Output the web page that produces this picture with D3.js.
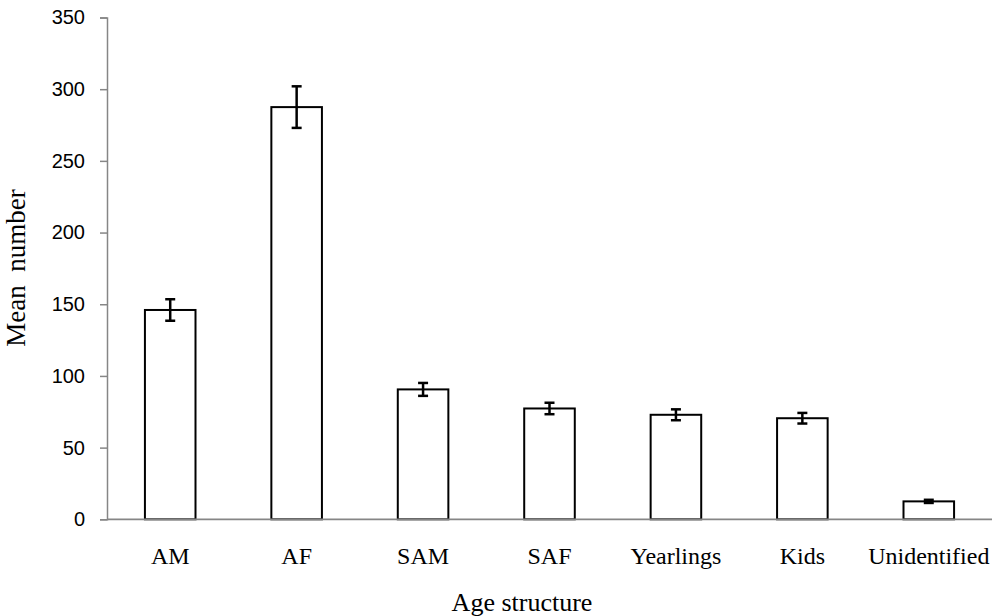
<!DOCTYPE html>
<html><head><meta charset="utf-8">
<script src="https://cdn.jsdelivr.net/npm/d3@7"></script>
<style>body{margin:0;background:#fff}svg{display:block}</style>
</head><body>
<svg id="chart" width="999" height="616"></svg>
<script>
const categories = ["AM","AF","SAM","SAF","Yearlings","Kids","Unidentified"];
const means = [146, 287.5, 90.6, 77.3, 72.9, 70.5, 12.5];
const errors = [7.5, 14.5, 4.5, 4.0, 3.8, 3.7, 1.1];
const yTicks = [0, 50, 100, 150, 200, 250, 300, 350];

const svg = d3.select("#chart");
const mLeft = 107, mRight = 992, mTop = 17.5, mBottom = 519.3;

const x = d3.scaleBand().domain(categories).range([mLeft, mRight]).paddingInner(0.6).paddingOuter(0.3);
const y = d3.scaleLinear().domain([0, 350]).range([mBottom, mTop]);

// y axis
const yAxis = svg.append("g").attr("transform", `translate(${mLeft},0)`)
  .call(d3.axisLeft(y).tickValues(yTicks).tickSize(7).tickPadding(15).tickFormat(d3.format("d")));
yAxis.select(".domain").attr("stroke", "#868686").attr("stroke-width", 1.5);
yAxis.selectAll(".tick line").attr("stroke", "#868686").attr("stroke-width", 1.5);
yAxis.selectAll(".tick text").attr("font-family", "'Liberation Sans', Arial, sans-serif")
  .attr("font-size", 20).attr("fill", "#000");

// bars
const data = categories.map((c, i) => ({c, m: means[i], e: errors[i]}));
svg.append("g").selectAll("rect").data(data).join("rect")
  .attr("x", d => x(d.c)).attr("width", x.bandwidth())
  .attr("y", d => y(d.m)).attr("height", d => y(0) - y(d.m))
  .attr("fill", "#fff").attr("stroke", "#000").attr("stroke-width", 2);

// x axis line
svg.append("line").attr("x1", mLeft).attr("x2", mRight).attr("y1", y(0)).attr("y2", y(0))
  .attr("stroke", "#868686").attr("stroke-width", 1.8);

// error bars
const eg = svg.append("g").attr("stroke", "#000").attr("stroke-width", 2.5);
data.forEach(d => {
  const cx = x(d.c) + x.bandwidth() / 2;
  eg.append("line").attr("x1", cx).attr("x2", cx).attr("y1", y(d.m + d.e)).attr("y2", y(d.m - d.e));
  eg.append("line").attr("x1", cx - 5).attr("x2", cx + 5).attr("y1", y(d.m + d.e)).attr("y2", y(d.m + d.e));
  eg.append("line").attr("x1", cx - 5).attr("x2", cx + 5).attr("y1", y(d.m - d.e)).attr("y2", y(d.m - d.e));
});

// category labels
svg.append("g").selectAll("text").data(categories).join("text")
  .attr("x", d => x(d) + x.bandwidth() / 2).attr("y", 564)
  .attr("text-anchor", "middle")
  .attr("font-family", "'Liberation Serif', 'Times New Roman', serif")
  .attr("font-size", 24).attr("fill", "#000").text(d => d);

// axis titles
svg.append("text").attr("x", 522).attr("y", 611).attr("text-anchor", "middle")
  .attr("font-family", "'Liberation Serif', 'Times New Roman', serif")
  .attr("font-size", 26).attr("fill", "#000").text("Age structure");

svg.append("text").attr("transform", "translate(25,268) rotate(-90)")
  .attr("text-anchor", "middle").style("white-space", "pre")
  .attr("font-family", "'Liberation Serif', 'Times New Roman', serif")
  .attr("font-size", 27).attr("fill", "#000").text("Mean  number");
</script>
</body></html>
